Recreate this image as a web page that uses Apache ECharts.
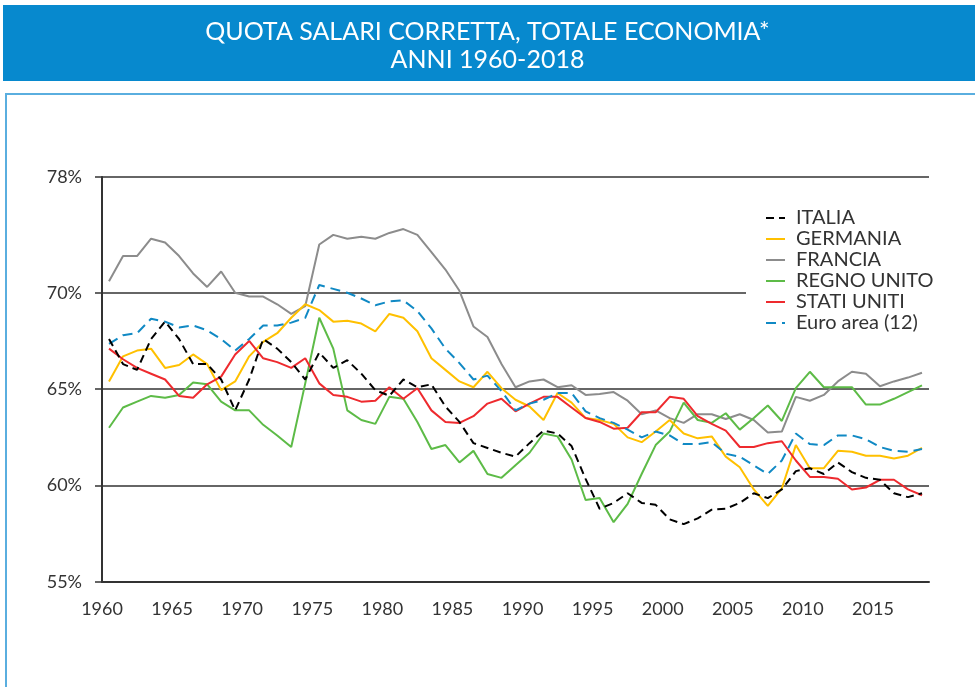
<!DOCTYPE html>
<html>
<head>
<meta charset="UTF-8">
<title>Quota salari corretta</title>
<script src="https://cdn.jsdelivr.net/npm/echarts@6/dist/echarts.min.js"></script>
<style type="text/css">
	html, body { margin: 0; padding: 0; background: #fff; }
	#main { width: 975px; height: 687px; }
</style>
</head>
<body>
<div id="main"></div>
<script type="text/javascript">
	// anni 1960-2018
	var years = [];
	for (var y = 1960; y <= 2018; y++) years.push(String(y));

	var italia = [67.6, 66.3, 66.0, 67.6, 68.5, 67.6, 66.3, 66.3, 65.5, 63.9,
		65.5, 67.6, 67.1, 66.4, 65.5, 66.9, 66.1, 66.5, 65.8, 64.95,
		64.65, 65.5, 65.1, 65.25, 64.1, 63.3, 62.2, 61.95, 61.7, 61.5,
		62.2, 62.85, 62.7, 62.05, 60.35, 58.8, 59.1, 59.6, 59.1, 59.0,
		58.25, 58.0, 58.3, 58.75, 58.8, 59.1, 59.6, 59.35, 59.8, 60.75,
		60.9, 60.6, 61.2, 60.7, 60.4, 60.3, 59.6, 59.4, 59.6];
	var germania = [65.4, 66.7, 67.0, 67.1, 66.1, 66.25, 66.8, 66.3, 64.95, 65.4,
		66.7, 67.45, 67.9, 68.7, 69.4, 69.1, 68.5, 68.55, 68.4, 68.0,
		68.9, 68.7, 68.0, 66.6, 66.0, 65.4, 65.1, 65.9, 65.05, 64.45,
		64.1, 63.4, 64.8, 64.3, 63.5, 63.4, 63.2, 62.5, 62.25, 62.8,
		63.4, 62.7, 62.45, 62.55, 61.5, 60.95, 59.8, 58.95, 59.85, 62.1,
		60.9, 60.9, 61.8, 61.75, 61.55, 61.55, 61.4, 61.55, 61.95];
	var francia = [70.6, 71.9, 71.9, 72.8, 72.6, 71.9, 71.0, 70.3, 71.1, 70.0,
		69.8, 69.8, 69.4, 68.9, 69.3, 72.5, 73.0, 72.8, 72.9, 72.8,
		73.1, 73.3, 73.0, 72.1, 71.2, 70.1, 68.25, 67.7, 66.3, 65.1,
		65.4, 65.5, 65.1, 65.2, 64.7, 64.75, 64.85, 64.4, 63.7, 63.9,
		63.5, 63.25, 63.7, 63.7, 63.45, 63.7, 63.4, 62.75, 62.8, 64.6,
		64.4, 64.7, 65.4, 65.9, 65.8, 65.15, 65.4, 65.6, 65.85];
	var regnoUnito = [63.0, 64.05, 64.35, 64.65, 64.55, 64.7, 65.35, 65.25, 64.35, 63.9,
		63.9, 63.15, 62.6, 62.0, 65.3, 68.7, 67.1, 63.9, 63.4, 63.2,
		64.6, 64.5, 63.3, 61.9, 62.1, 61.2, 61.8, 60.6, 60.4, 61.05,
		61.7, 62.7, 62.55, 61.35, 59.25, 59.35, 58.1, 59.05, 60.6, 62.1,
		62.8, 64.3, 63.4, 63.25, 63.75, 62.9, 63.5, 64.15, 63.35, 65.05,
		65.9, 65.1, 65.1, 65.1, 64.2, 64.2, 64.5, 64.85, 65.2];
	var statiUniti = [67.1, 66.55, 66.1, 65.8, 65.5, 64.65, 64.55, 65.25, 65.65, 66.8,
		67.5, 66.6, 66.4, 66.1, 66.6, 65.3, 64.7, 64.6, 64.35, 64.4,
		65.1, 64.5, 65.05, 63.9, 63.3, 63.25, 63.6, 64.25, 64.5, 63.85,
		64.25, 64.6, 64.6, 64.05, 63.5, 63.3, 62.95, 63.0, 63.8, 63.8,
		64.6, 64.5, 63.6, 63.2, 62.85, 62.0, 62.0, 62.2, 62.3, 61.3,
		60.45, 60.45, 60.35, 59.8, 59.9, 60.3, 60.3, 59.8, 59.5];
	var euroArea = [67.35, 67.8, 67.9, 68.65, 68.5, 68.2, 68.3, 68.05, 67.6, 67.0,
		67.6, 68.3, 68.3, 68.45, 68.7, 70.4, 70.2, 70.0, 69.7, 69.35,
		69.55, 69.6, 69.05, 68.15, 67.1, 66.35, 65.5, 65.7, 64.9, 63.9,
		64.25, 64.45, 64.8, 64.8, 63.85, 63.5, 63.25, 62.9, 62.5, 62.8,
		62.6, 62.15, 62.15, 62.25, 61.65, 61.5, 61.05, 60.6, 61.3, 62.7,
		62.15, 62.1, 62.6, 62.6, 62.4, 62.0, 61.8, 61.75, 61.9];

	// tacche asse y (la linea in alto e' etichettata 78%)
	var yTicks = [55, 60, 65, 70, 76];
	var yLabels = ['55%', '60%', '65%', '70%', '78%'];

	var myChart = echarts.init(document.getElementById('main'));

	function serie(nome, dati, colore, tratto) {
		return {
			name: nome,
			type: 'line',
			data: dati,
			symbol: 'none',
			lineStyle: { color: colore, width: 2, type: tratto || 'solid' },
			itemStyle: { color: colore }
		};
	}

	var option = {
		animation: false,
		backgroundColor: '#fff',
		title: {
			text: 'QUOTA SALARI CORRETTA, TOTALE ECONOMIA*\nANNI 1960-2018',
			left: 'center',
			top: 13,
			textStyle: {
				color: '#fff',
				fontFamily: 'Lato',
				fontWeight: 'normal',
				fontSize: 25,
				lineHeight: 28
			}
		},
		graphic: [{
			type: 'rect',
			z: -10,
			shape: { x: 3, y: 5, width: 980, height: 76 },
			style: { fill: '#0789CE' }
		}, {
			type: 'rect',
			z: -10,
			shape: { x: 6, y: 94, width: 990, height: 620 },
			style: { fill: 'none', stroke: '#5AAEDF', lineWidth: 2 }
		}],
		legend: {
			orient: 'vertical',
			left: 746,
			top: 203,
			padding: [5, 8, 5, 19],
			backgroundColor: '#fff',
			itemWidth: 19,
			itemHeight: 10,
			itemGap: 1,
			itemStyle: { opacity: 0 },
			textStyle: {
				fontFamily: 'Lato',
				fontSize: 20,
				lineHeight: 18,
				color: '#333',
				padding: [0, 0, 0, 6]
			},
			data: ['ITALIA', 'GERMANIA', 'FRANCIA', 'REGNO UNITO', 'STATI UNITI', 'Euro area (12)']
		},
		grid: {
			left: 102,
			right: 46,
			top: 177,
			bottom: 105
		},
		xAxis: {
			type: 'category',
			data: years,
			boundaryGap: true,
			axisLine: { lineStyle: { color: '#333', width: 2 } },
			axisTick: { interval: 0, length: 6, lineStyle: { color: '#333', width: 1.5 } },
			axisLabel: {
				interval: 4,
				margin: 18,
				fontFamily: 'Lato',
				fontSize: 18,
				color: '#333',
				padding: [0, 14, 0, 0]
			}
		},
		yAxis: {
			type: 'value',
			min: 55,
			max: 76,
			axisLine: { show: true, lineStyle: { color: '#333', width: 2 } },
			axisTick: { show: true, length: 7, customValues: yTicks, lineStyle: { color: '#333', width: 1.5 } },
			splitLine: { show: true, lineStyle: { color: '#333', width: 1.5 } },
			axisLabel: {
				customValues: yTicks,
				margin: 20,
				fontFamily: 'Lato',
				fontSize: 18,
				color: '#333',
				formatter: function(v) {
					var i = yTicks.indexOf(v);
					return i >= 0 ? yLabels[i] : '';
				}
			}
		},
		series: [
			serie('FRANCIA', francia, '#8C8C8C'),
			serie('REGNO UNITO', regnoUnito, '#5DBB47'),
			serie('GERMANIA', germania, '#FFC000'),
			serie('STATI UNITI', statiUniti, '#EE2A2E'),
			serie('Euro area (12)', euroArea, '#1089C4', [10, 6]),
			serie('ITALIA', italia, '#000', [8, 5])
		]
	};
	myChart.setOption(option);
</script>
</body>
</html>
